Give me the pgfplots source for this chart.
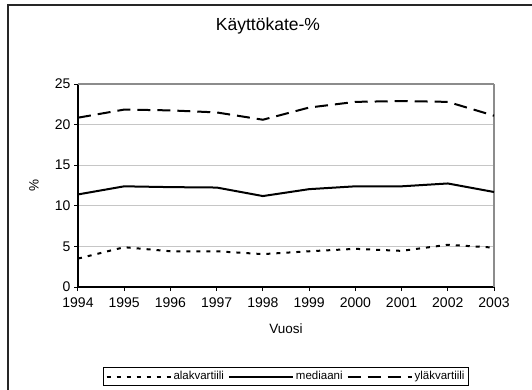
\documentclass[border=0pt]{standalone}
\usepackage{fontspec}
\setmainfont{Liberation Sans}
\usepackage{pgfplots}
\pgfplotsset{compat=1.18}

\begin{document}
\begin{tikzpicture}
\useasboundingbox (0,0) rectangle (532pt,389pt);
\begin{scope}
\clip (0,0) rectangle (532pt,389pt);
\draw[line width=1.5pt, black!85] (8pt,-20pt) rectangle (560pt,384pt);
\end{scope}
\begin{axis}[
    at={(78pt,102pt)}, anchor=south west,
    scale only axis,
    width=416pt, height=203pt,
    xmin=1994, xmax=2003,
    ymin=0, ymax=25,
    xtick={1994,1995,...,2002},
    ytick={0,5,...,20},
    extra x ticks={2003},
    extra y ticks={25},
    extra tick style={grid=major, major grid style={gray!90, line width=1.2pt}},
    axis x line*=bottom,
    axis y line*=left,
    axis line style={black, line width=1.2pt, -},
    tick align=outside,
    major tick length=4pt,
    tick style={black, line width=1pt},
    ymajorgrids,
    major grid style={gray!45, line width=0.8pt},
    /pgf/number format/assume math mode=true,
    /pgf/number format/1000 sep={},
    tick label style={font=\fontsize{14}{16}\selectfont},
    xticklabel style={yshift=-3pt},
    title={Käyttökate-\%},
    title style={at={(0.5,1)}, anchor=center, xshift=-18pt, yshift=52pt, font=\fontsize{17.5}{20}\selectfont},
    xlabel={Vuosi},
    xlabel style={font=\fontsize{13.5}{16}\selectfont, at={(0.5,0)}, anchor=center, yshift=-42pt},
    ylabel={\%},
    ylabel style={font=\fontsize{13.5}{16}\selectfont, at={(0,0.5)}, anchor=center, yshift=44pt},
    legend columns=3,
    legend style={at={(0.5,-0.4409)}, anchor=center, draw=black, line width=0.8pt,
        font=\fontsize{11.5}{13}\selectfont, inner sep=2pt,
        /tikz/every even column/.append style={column sep=2pt}},
    legend image code/.code={\draw[#1] (0pt,0pt) -- (64pt,0pt);},
    every axis plot/.append style={line width=2pt, black},
]
% alakvartiili
\addplot[dash pattern=on 4pt off 6pt] coordinates {
(1994,3.5) (1995,4.9) (1996,4.4) (1997,4.4) (1998,4.05)
(1999,4.4) (2000,4.7) (2001,4.45) (2002,5.2) (2003,4.85)};
% mediaani
\addplot[solid] coordinates {
(1994,11.4) (1995,12.4) (1996,12.3) (1997,12.25) (1998,11.2)
(1999,12.05) (2000,12.4) (2001,12.4) (2002,12.75) (2003,11.7)};
% ylakvartiili
\addplot[dash pattern=on 13pt off 7pt] coordinates {
(1994,20.85) (1995,21.85) (1996,21.75) (1997,21.5) (1998,20.6)
(1999,22.1) (2000,22.8) (2001,22.9) (2002,22.8) (2003,21.1)};
\legend{alakvartiili, mediaani, yläkvartiili}
\end{axis}
\end{tikzpicture}
\end{document}
